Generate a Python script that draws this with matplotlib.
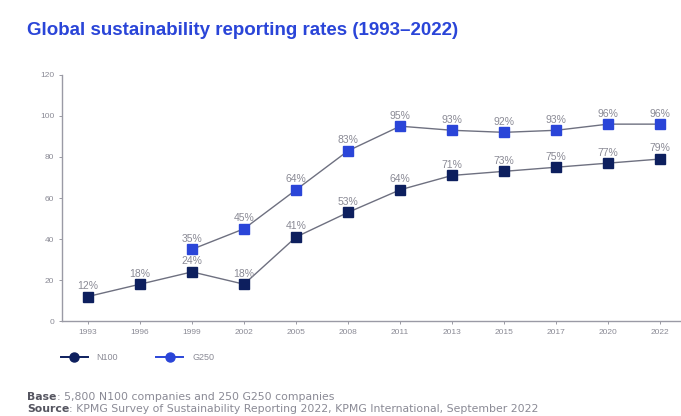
import matplotlib
matplotlib.use("Agg")
import matplotlib.pyplot as plt
from matplotlib.lines import Line2D

# datos
anios = ["1993", "1996", "1999", "2002", "2005", "2008", "2011", "2013", "2015", "2017", "2020", "2022"]
n100 = [12, 18, 24, 18, 41, 53, 64, 71, 73, 75, 77, 79]
g250_anios = ["1999", "2002", "2005", "2008", "2011", "2013", "2015", "2017", "2020", "2022"]
g250 = [35, 45, 64, 83, 95, 93, 92, 93, 96, 96]

color_n100 = "#0d1f5e"
color_g250 = "#2a45d8"
color_linea = "#6e7080"
gris = "#8a8a95"

plt.rcParams["font.family"] = ["Liberation Sans", "DejaVu Sans"]

fig = plt.figure(figsize=(6.81, 4.16), dpi=100)
ax = fig.add_axes([0.091, 0.228, 0.909, 0.592])

x_n = list(range(len(anios)))
x_g = [anios.index(a) for a in g250_anios]

ax.plot(x_g, g250, color=color_linea, lw=1.0, marker="s", ms=6.5,
        mfc=color_g250, mec=color_g250, zorder=3)
ax.plot(x_n, n100, color=color_linea, lw=1.0, marker="s", ms=6.5,
        mfc=color_n100, mec=color_n100, zorder=3)

for x, v in zip(x_g, g250):
    ax.annotate(f"{v}%", (x, v), xytext=(0, 4), textcoords="offset points",
                ha="center", va="bottom", fontsize=7.5, color=gris)
for x, v in zip(x_n, n100):
    ax.annotate(f"{v}%", (x, v), xytext=(0, 4), textcoords="offset points",
                ha="center", va="bottom", fontsize=7.5, color=gris)

ax.set_xlim(-0.5, 11.4)
ax.set_ylim(0, 120)
ax.set_yticks(range(0, 121, 20))
ax.set_xticks(x_n)
ax.set_xticklabels(anios)
ax.tick_params(axis="both", labelsize=6, colors=gris, length=2, width=0.6)
for s in ["top", "right"]:
    ax.spines[s].set_visible(False)
for s in ["left", "bottom"]:
    ax.spines[s].set_color("#9a9aa5")
    ax.spines[s].set_linewidth(1.0)

fig.text(0.04, 0.927, "Global sustainability reporting rates (1993\u20132022)",
         fontsize=13.5, fontweight="bold", color="#2a45d8", va="center")

handles = [
    Line2D([], [], color=color_n100, lw=1.4, marker="o", ms=6.5, mfc=color_n100, mec=color_n100),
    Line2D([], [], color=color_g250, lw=1.4, marker="o", ms=6.5, mfc=color_g250, mec=color_g250),
]
fig.legend(handles, ["N100", "G250"], loc="center left", bbox_to_anchor=(0.077, 0.14),
           ncol=2, frameon=False, fontsize=6.5, labelcolor=gris, handlelength=3.0,
           columnspacing=4.2, handletextpad=1.0)

# notas al pie: parte en negrita seguida del texto normal
fig.canvas.draw()
renderer = fig.canvas.get_renderer()
notas = [("Base", ": 5,800 N100 companies and 250 G250 companies", 0.045),
         ("Source", ": KPMG Survey of Sustainability Reporting 2022, KPMG International, September 2022", 0.018)]
for negrita, resto, y in notas:
    t = fig.text(0.04, y, negrita, fontsize=7.8, family="DejaVu Sans", color="#555560",
                 fontweight="bold", va="center")
    bb = t.get_window_extent(renderer)
    x1 = fig.transFigure.inverted().transform((bb.x1, 0))[0]
    fig.text(x1, y, resto, fontsize=7.8, family="DejaVu Sans", color=gris, va="center")

plt.savefig("out.png", dpi=100)
